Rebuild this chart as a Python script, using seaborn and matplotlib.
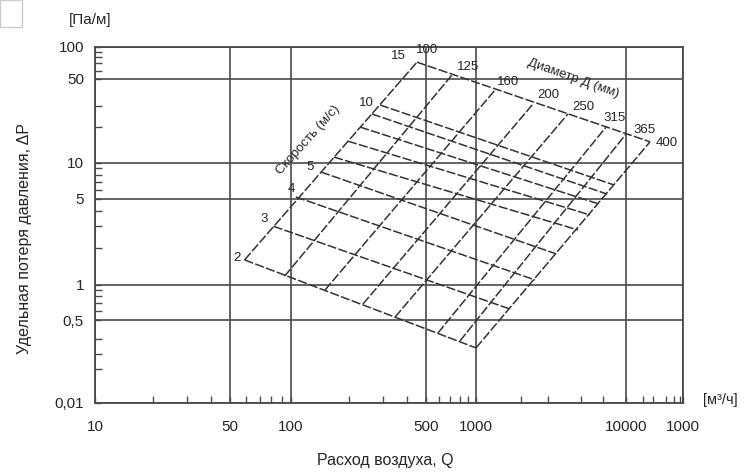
import numpy as np
import pandas as pd
import matplotlib
matplotlib.use("Agg")
import matplotlib.pyplot as plt
from matplotlib.patches import Rectangle
import seaborn as sns

# axis ticks (the scan has irregular spacing, and "1000" at the end is printed like that)
x_ticks = [10, 50, 100, 500, 1000, 10000, 100000]
x_tick_labels = ["10", "50", "100", "500", "1000", "10000", "1000"]
y_ticks = [0.01, 0.5, 1, 5, 10, 50, 100]
y_tick_labels = ["0,01", "0,5", "1", "5", "10", "50", "100"]
x_minor = [20, 30, 40, 60, 70, 80, 90, 200, 300, 400, 600, 700, 800, 900,
           2000, 3000, 5000, 7000, 20000, 30000, 50000, 70000, 90000]
y_minor = [0.05, 0.1, 0.2, 0.6, 0.7, 0.8, 0.9, 2, 3, 4, 6, 7, 8, 9,
           20, 30, 60, 70, 80, 90]

# where each tick sits along the drawn axis (pixels from the axis origin)
x_tick_pos = [0, 135, 196, 331, 381, 531, 588]
y_tick_pos = [0, 83, 118, 204, 240, 324, 356]

# velocity lines, m/s (start on the 100 mm line, end on the 400 mm line)
velocity = [2, 3, 4, 5, 6, 7, 8, 9, 10, 15]
vel_q_start = [59, 82, 106, 143, 167, 197, 228, 262, 289, 449]
vel_dp_start = [1.6, 3.0, 5.2, 8.4, 11.2, 15.2, 19.9, 25.6, 30.4, 72]
vel_q_end = [1000, 1690, 2470, 3420, 4790, 5750, 6610, 7470, 8320, 26400]
vel_dp_end = [0.134, 0.62, 1.1, 1.79, 2.8, 3.71, 4.55, 5.5, 6.55, 15.0]
vel_labeled = [2, 3, 4, 5, 10, 15]

# diameter lines, mm (bottom on the 2 m/s line, top on the 15 m/s line)
diameter = [100, 125, 160, 200, 250, 315, 365, 400]
diam_q_bot = [59, 93, 150, 236, 346, 590, 800, 1000]
diam_dp_bot = [1.6, 1.18, 0.906, 0.687, 0.531, 0.271, 0.186, 0.134]
diam_q_top = [449, 717, 1340, 2400, 4100, 7360, 10000, 26400]
diam_dp_top = [72, 54.6, 40.5, 31.0, 25.6, 19.9, 17.4, 15.0]

# label offsets in pixels
vel_offsets = {2: (-8, 2), 3: (-9, 7), 4: (-5, 8), 5: (-11, 5), 10: (-14, 2), 15: (-19, 6)}
diam_offsets = [(10, 12), (16, 8), (13, 8), (15, 9), (15, 7), (9, 9), (19, 4), (17, -1)]

rows = []
for v, q0, p0, q1, p1 in zip(velocity, vel_q_start, vel_dp_start, vel_q_end, vel_dp_end):
    rows.append({"line": "v%s" % v, "Q": q0, "dP": p0})
    rows.append({"line": "v%s" % v, "Q": q1, "dP": p1})
for d, q0, p0, q1, p1 in zip(diameter, diam_q_bot, diam_dp_bot, diam_q_top, diam_dp_top):
    rows.append({"line": "d%s" % d, "Q": q0, "dP": p0})
    rows.append({"line": "d%s" % d, "Q": q1, "dP": p1})
df = pd.DataFrame(rows)

sns.set_style("white")
plt.rcParams["font.family"] = ["Liberation Sans", "DejaVu Sans"]
txt = "#262626"
grid_c = "#4a4a4a"

fig = plt.figure(figsize=(7.55, 4.74), dpi=100)
ax = fig.add_axes([95 / 755, 71 / 474, 588 / 755, 356 / 474])

sns.lineplot(data=df, x="Q", y="dP", units="line", estimator=None, sort=False,
             color="#333333", lw=1.1, linestyle=(0, (6, 1.5)), legend=False, ax=ax)

x_logs = np.log10(x_ticks)
y_logs = np.log10(y_ticks)


def fx(v):
    return np.interp(np.log10(np.clip(v, 1e-9, None)), x_logs, x_tick_pos)


def fx_inv(p):
    return 10 ** np.interp(p, x_tick_pos, x_logs)


def fy(v):
    return np.interp(np.log10(np.clip(v, 1e-9, None)), y_logs, y_tick_pos)


def fy_inv(p):
    return 10 ** np.interp(p, y_tick_pos, y_logs)


ax.set_xscale("function", functions=(fx, fx_inv))
ax.set_yscale("function", functions=(fy, fy_inv))
ax.set_xlim(10, 100000)
ax.set_ylim(0.01, 100)

ax.set_xticks(x_ticks)
ax.set_xticklabels(x_tick_labels)
ax.set_yticks(y_ticks)
ax.set_yticklabels(y_tick_labels)
ax.set_xticks(x_minor, minor=True)
ax.set_yticks(y_minor, minor=True)
ax.set_xticklabels([], minor=True)
ax.set_yticklabels([], minor=True)
ax.tick_params(which="both", bottom=True, left=True, top=False, right=False)
ax.tick_params(which="major", direction="in", length=4, width=1, color=grid_c,
               labelsize=11, labelcolor=txt)
ax.tick_params(axis="x", which="major", pad=12)
ax.tick_params(axis="y", which="major", pad=8)
ax.tick_params(which="minor", direction="in", length=5, width=1, color=grid_c)
ax.grid(True, which="major", color=grid_c, lw=1.2)
for s in ax.spines.values():
    s.set_color(grid_c)
    s.set_linewidth(1.3)
ax.set_xlabel("")
ax.set_ylabel("")

# labels along the nomogram
for v, q, p in zip(velocity, vel_q_start, vel_dp_start):
    if v in vel_labeled:
        ax.annotate(str(v), (q, p), xytext=vel_offsets[v], textcoords="offset pixels",
                    ha="center", va="center", fontsize=9.5, color=txt)
for d, q, p, off in zip(diameter, diam_q_top, diam_dp_top, diam_offsets):
    ax.annotate(str(d), (q, p), xytext=off, textcoords="offset pixels",
                ha="center", va="center", fontsize=9.5, color=txt)

fig.text(308 / 755, 1 - 140 / 474, "Скорость (м/с)", rotation=48, ha="center", va="center",
         fontsize=9.5, color=txt)
fig.text(573 / 755, 1 - 78 / 474, "Диаметр Д (мм)", rotation=-19.5, ha="center", va="center",
         fontsize=9.5, color=txt)

fig.text(25 / 755, 1 - 238 / 474, "Удельная потеря давления, ΔР", rotation=90,
         ha="center", va="center", fontsize=11.5, color=txt)
fig.text(385 / 755, 1 - 460 / 474, "Расход воздуха, Q", ha="center", va="center",
         fontsize=11.5, color=txt)
fig.text(90 / 755, 1 - 20 / 474, "[Па/м]", ha="center", va="center", fontsize=11, color=txt)
fig.text(720 / 755, 1 - 400 / 474, "[м³/ч]", ha="center", va="center", fontsize=10.5, color=txt)

fig.add_artist(Rectangle((0, 1 - 27 / 474), 22 / 755, 27 / 474, transform=fig.transFigure,
                         fill=False, ec="#cccccc", lw=1))

fig.savefig("out.png", dpi=100)
